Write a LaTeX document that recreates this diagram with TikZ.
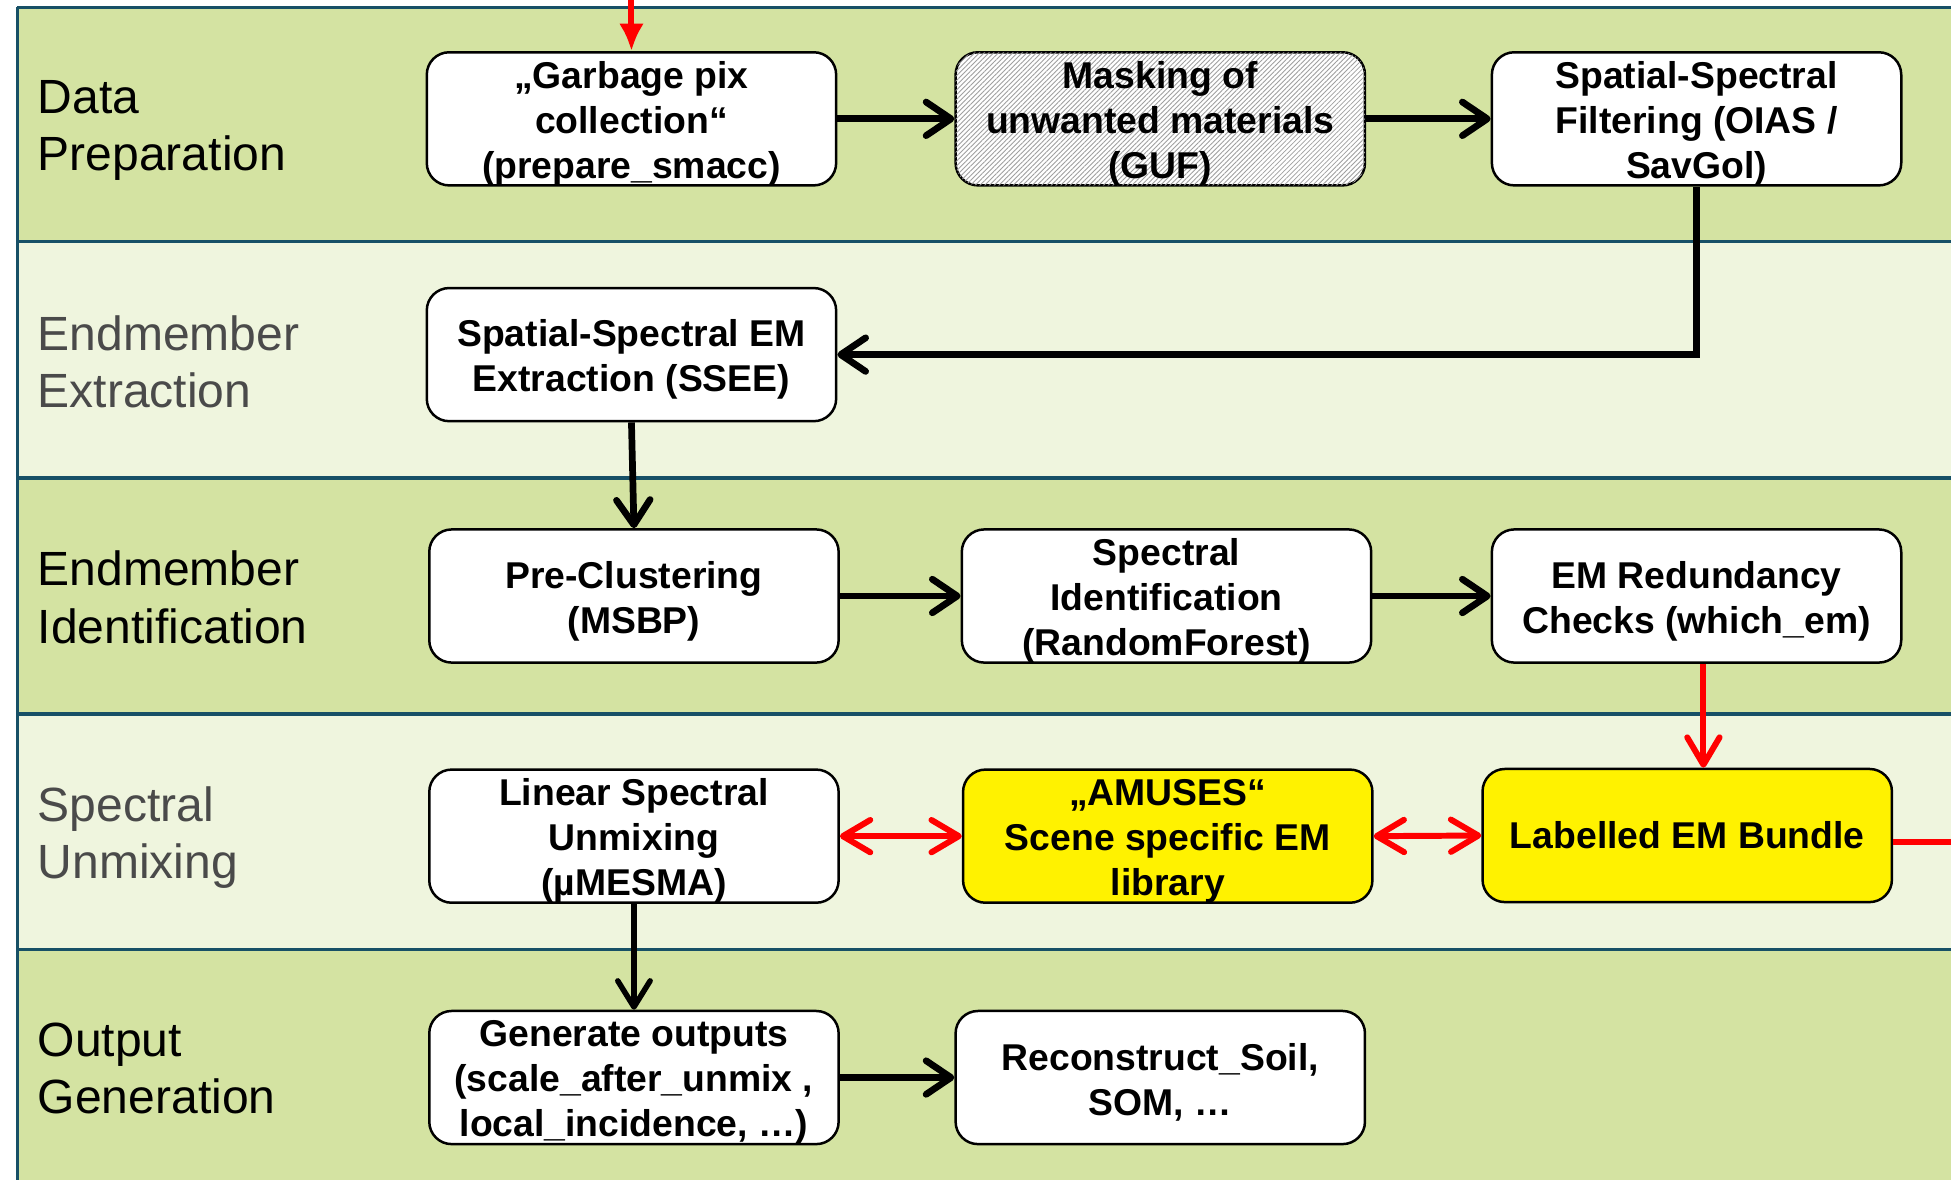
\documentclass[tikz,border=0pt]{standalone}
\usepackage{fontspec}
\setmainfont{Liberation Sans}
\usetikzlibrary{arrows.meta,patterns.meta,calc}
\definecolor{bandD}{RGB}{212,227,162}
\definecolor{bandL}{RGB}{239,245,222}
\definecolor{bline}{RGB}{23,80,102}
\definecolor{lgray}{RGB}{74,74,74}
\newcommand{\bt}[1]{\vbox to 50pt{\hsize=162pt\centering\vss\kern4pt #1\par\vss}}
\begin{document}
\begin{tikzpicture}[x=0.5pt,y=-0.5pt,
  box/.style={draw=black, line width=1pt, rounded corners=9pt, fill=white,
    minimum width=164.5pt, minimum height=53.5pt, inner sep=0pt, align=center,
    font=\bfseries\fontsize{15}{18}\selectfont},
  ybox/.style={box, fill=yellow},
  hbox/.style={box, fill=white,
    postaction={pattern={Lines[angle=45,distance=1.35pt,line width=0.35pt]}, pattern color=gray!75}},
  lbl/.style={anchor=west, align=left, inner sep=0pt, font=\fontsize{19.3}{23}\selectfont},
  blk/.style={draw=black, line width=2.7pt,
    -{Straight Barb[length=10pt,width=13.5pt,line cap=round,line join=round]}},
  thinarr/.style={draw=black, line width=2.2pt,
    -{Straight Barb[length=10.5pt,width=13pt,line cap=round,line join=round]}},
  rarr/.style={draw=red, line width=2.4pt,
    -{Straight Barb[length=11pt,width=13pt,line cap=round,line join=round]}},
  rdbl/.style={draw=red, line width=2.4pt,
    {Straight Barb[length=11pt,width=13pt,line cap=round,line join=round]}-{Straight Barb[length=11pt,width=13pt,line cap=round,line join=round]}},
  rtop/.style={draw=red, line width=2.4pt, -{Latex[length=11pt,width=10pt]}},
  rline/.style={draw=red, line width=2.4pt},
  bandline/.style={draw=bline, line width=1.5pt}
]
\useasboundingbox (0,0) rectangle (1568,948);
\fill[white] (0,0) rectangle (1568,948);
% bands
\fill[bandD] (14,6) rectangle (1568,194);
\fill[bandL] (14,194) rectangle (1568,384);
\fill[bandD] (14,384) rectangle (1568,574);
\fill[bandL] (14,574) rectangle (1568,763);
\fill[bandD] (14,763) rectangle (1568,948);
\draw[bandline] (14,6) -- (1568,6);
\draw[bandline] (14,194) -- (1568,194);
\draw[bandline] (14,384) -- (1568,384);
\draw[bandline] (14,574) -- (1568,574);
\draw[bandline] (14,763) -- (1568,763);
\draw[draw=bline, line width=1pt] (14,6) -- (14,948);
% lane labels
\node[lbl, text=black] (l1) at (30,105) {Data\\Preparation};
\node[lbl, text=lgray] (l2) at (30,291) {Endmember\\Extraction};
\node[lbl, text=black] (l3) at (30,480) {Endmember\\Identification};
\node[lbl, text=lgray] (l4) at (30,673) {Spectral\\Unmixing};
\node[lbl, text=black] (l5) at (30,859) {Output\\Generation};
% boxes
\node[box] (gar) at (507.5,95.5) {\bt{„Garbage pix\\collection“\\(prepare\_smacc)}};
\node[hbox] (mask) at (932.5,95.5) {\bt{Masking of\\unwanted materials\\(GUF)}};
\node[box] (ssf) at (1363.5,95.5) {\bt{Spatial-Spectral\\Filtering (OIAS /\\SavGol)}};
\node[box] (ssee) at (507.5,285) {\bt{Spatial-Spectral EM\\Extraction (SSEE)}};
\node[box] (prec) at (509.5,479) {\bt{Pre-Clustering\\(MSBP)}};
\node[box] (spid) at (937.5,479) {\bt{Spectral\\Identification\\(RandomForest)}};
\node[box] (emr) at (1363.5,479) {\bt{EM Redundancy\\Checks (which\_em)}};
\node[box] (lin) at (509.5,672) {\bt{Linear Spectral\\Unmixing\\(µMESMA)}};
\node[ybox] (amu) at (938.5,672) {\bt{„AMUSES“\\Scene specific EM\\library}};
\node[ybox] (lab) at (1356,671.5) {Labelled EM Bundle};
\node[box] (gen) at (509.5,866) {\bt{Generate outputs\\(scale\_after\_unmix ,\\local\_incidence, …)}};
\node[box] (rec) at (932.5,866) {\bt{Reconstruct\_Soil,\\SOM, …}};
% connectors
\coordinate (topin) at (507.5,0);
\coordinate (exitR) at (1568,677);
\draw[rtop] (topin) -- (gar.north);
\draw[blk] (gar.east) -- (mask.west);
\draw[blk] (mask.east) -- (ssf.west);
\draw[blk] (ssf.south) |- (ssee.east);
\draw[blk] (ssee.south) -- (prec.north);
\draw[blk] (prec.east) -- (spid.west);
\draw[blk] (spid.east) -- (emr.west);
\draw[rarr] ([xshift=2.75pt]emr.south) -- ([xshift=2.75pt]emr.south |- lab.north);
\draw[rdbl] (amu.east) -- (lab.west);
\draw[rdbl] (lin.east) -- (amu.west);
\draw[rline] (lab.east |- exitR) -- (exitR);
\draw[thinarr] (lin.south) -- (gen.north);
\draw[blk] (gen.east) -- (rec.west);
\end{tikzpicture}
\end{document}
